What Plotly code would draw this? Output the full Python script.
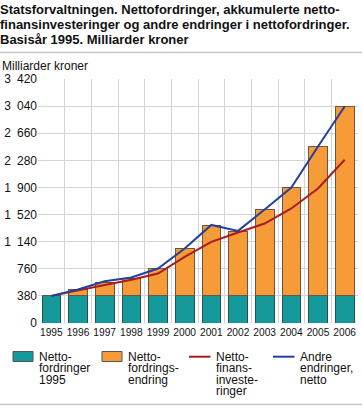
import plotly.graph_objects as go

years = ["1995", "1996", "1997", "1998", "1999", "2000", "2001", "2002", "2003", "2004", "2005", "2006"]
base_1995 = [380] * 12
total = [380, 469, 567, 623, 759, 1044, 1371, 1287, 1591, 1899, 2474, 3035]
change = [t - b for t, b in zip(total, base_1995)]
finans = [380, 460, 534, 605, 693, 927, 1137, 1268, 1394, 1605, 1885, 2288]
andre = [380, 469, 584, 637, 764, 1044, 1375, 1291, 1591, 1899, 2474, 3035]
yticks = [0, 380, 760, 1140, 1520, 1900, 2280, 2660, 3040, 3420]
ytick_labels = ["0", "380", "760", "1\u2002140", "1\u2002520", "1\u2002900",
                "2\u2002280", "2\u2002660", "3\u2002040", "3\u2002420"]
title_lines = ["Statsforvaltningen. Nettofordringer, akkumulerte netto-",
               "finansinvesteringer og andre endringer i nettofordringer.",
               "Basisår 1995. Milliarder kroner"]
unit_label = "Milliarder kroner"
legend_labels = [["Netto-", "fordringer", "1995"],
                 ["Netto-", "fordrings-", "endring"],
                 ["Netto-", "finans-", "investe-", "ringer"],
                 ["Andre", "endringer,", "netto"]]

TEAL, ORANGE, RED, BLUE = "#16999a", "#f79a38", "#a41e22", "#23409a"
font = "Liberation Sans, Arial, sans-serif"

# plot-area geometry (pixels)
W_FIG, H_FIG = 362, 407
L, R, T, B = 38, 4, 79, 84
PW, PH = W_FIG - L - R, H_FIG - T - B


def px(xp):
    return (xp - L) / PW


def py(yp):
    return (T + PH - yp) / PH


fig = go.Figure()
fig.add_bar(x=years, y=base_1995, showlegend=False,
            marker=dict(color=TEAL, line=dict(color="#24504d", width=1)))
fig.add_bar(x=years, y=change, showlegend=False,
            marker=dict(color=ORANGE, line=dict(color="#6a5544", width=1)))
fig.add_scatter(x=years, y=finans, mode="lines", showlegend=False,
                line=dict(color=RED, width=2))
fig.add_scatter(x=years, y=andre, mode="lines", showlegend=False,
                line=dict(color=BLUE, width=2))

annotations = []
for i, line in enumerate(title_lines):
    annotations.append(dict(text="<b>" + line + "</b>", xref="paper", yref="paper",
                            x=px(0), y=py(13.7 + 15 * i - 4.5), xanchor="left", yanchor="middle",
                            showarrow=False, borderpad=0, borderwidth=0,
                            font=dict(size=13, family=font, color="#111")))
annotations.append(dict(text=unit_label, xref="paper", yref="paper", x=px(2), y=py(70.5 - 4.2),
                        xanchor="left", yanchor="middle", showarrow=False,
                        borderpad=0, borderwidth=0,
                        font=dict(size=12, family=font, color="#111")))

shapes = [
    dict(type="line", xref="paper", yref="paper", x0=px(0), x1=px(362),
         y0=py(52.5), y1=py(52.5), line=dict(color="#c8c8c8", width=1.5)),
    dict(type="line", xref="paper", yref="paper", x0=px(0), x1=px(362),
         y0=py(404.5), y1=py(404.5), line=dict(color="#c8c8c8", width=1.5)),
]

# legend (drawn manually for the tight multi-line layout)
sw_x = [13, 102, 189, 273]
tx_x = [39, 128, 216, 300]
legend_kind = ["box", "box", "line", "line"]
legend_color = [TEAL, ORANGE, RED, BLUE]
for k in range(4):
    if legend_kind[k] == "box":
        shapes.append(dict(type="rect", xref="paper", yref="paper",
                           x0=px(sw_x[k]), x1=px(sw_x[k] + 20), y0=py(361.5), y1=py(351.5),
                           fillcolor=legend_color[k], line=dict(color="#555", width=1)))
    else:
        shapes.append(dict(type="line", xref="paper", yref="paper",
                           x0=px(sw_x[k]), x1=px(sw_x[k] + 21.5), y0=py(356.7), y1=py(356.7),
                           line=dict(color=legend_color[k], width=2)))
    for j, t in enumerate(legend_labels[k]):
        annotations.append(dict(text=t, xref="paper", yref="paper",
                                x=px(tx_x[k]), y=py(360.7 + 11.6 * j - 4.2),
                                xanchor="left", yanchor="middle", showarrow=False,
                                borderpad=0, borderwidth=0,
                                font=dict(size=12, family=font, color="#111")))

fig.update_layout(
    width=W_FIG, height=H_FIG,
    barmode="stack", bargap=0.3,
    paper_bgcolor="white", plot_bgcolor="white",
    font=dict(family=font, size=12, color="#111"),
    margin=dict(l=L, r=R, t=T, b=B, autoexpand=False),
    showlegend=False,
    xaxis=dict(type="category", tickson="boundaries", showgrid=True, gridcolor="#d4d4d4",
               gridwidth=1, ticks="", showline=False, tickangle=0, automargin=False,
               ticklabelstandoff=2, tickfont=dict(size=10.2, color="#111")),
    yaxis=dict(range=[0, 3420], tickvals=yticks, ticktext=ytick_labels, showgrid=True,
               gridcolor="#d4d4d4", gridwidth=1, zeroline=False, ticks="", automargin=False,
               tickfont=dict(size=12, color="#111")),
    annotations=annotations,
    shapes=shapes,
)
fig.write_html("out.html", config={"displayModeBar": False},
               post_script="document.body.style.margin='0px';")
